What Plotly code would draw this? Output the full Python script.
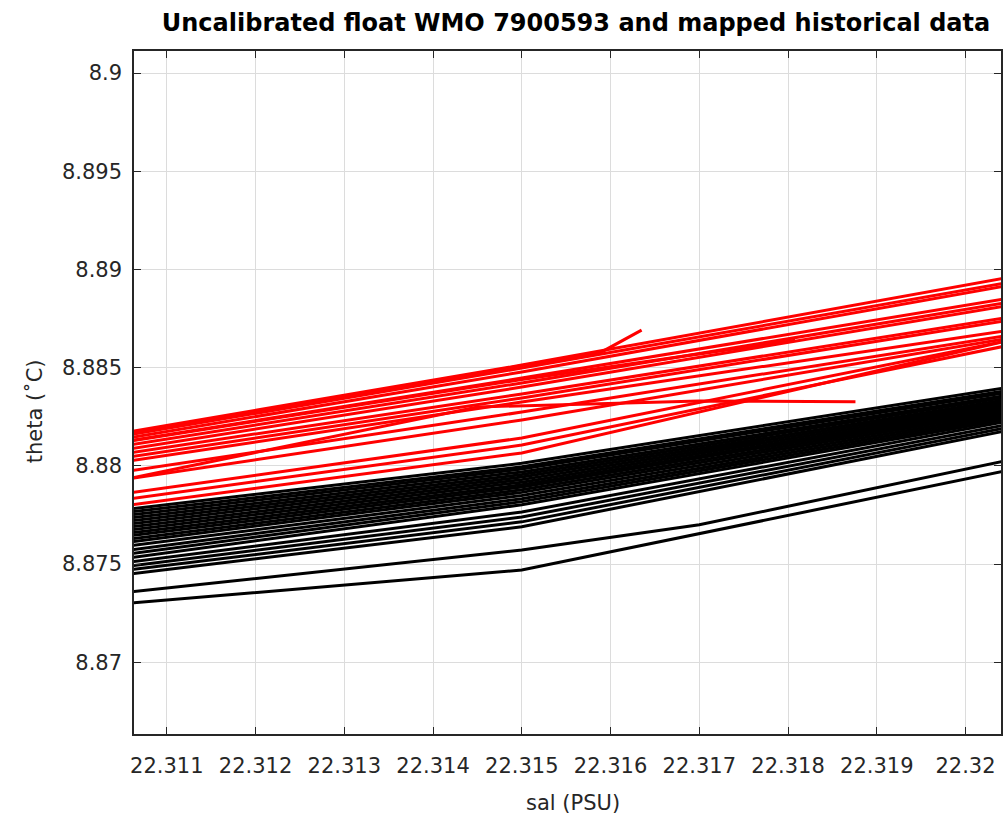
import plotly.graph_objects as go

# ---- data (sal, theta) ----
# Float (uncalibrated) profiles - red
red_sal = [
    [22.3105, 22.3150, 22.3205],
    [22.3105, 22.3150, 22.3205],
    [22.3105, 22.3150, 22.3205],
    [22.3105, 22.3150, 22.3205],
    [22.3105, 22.3150, 22.3205],
    [22.3105, 22.3150, 22.3205],
    [22.3105, 22.3150, 22.3205],
    [22.3105, 22.3150, 22.3205],
    [22.3105, 22.3150, 22.3205],
    [22.3105, 22.3150, 22.3205],
    [22.3105, 22.3150, 22.3205],
    [22.3105, 22.3150, 22.3205],
    [22.3105, 22.3150, 22.3205],
    [22.3105, 22.3150, 22.3205],
    [22.3105, 22.3150, 22.3159, 22.31635],
    [22.3105, 22.3145, 22.3170, 22.31876],
    [22.3105, 22.3150, 22.31808],
]
red_theta = [
    [8.88168, 8.88513, 8.88961],
    [8.88152, 8.88498, 8.88935],
    [8.88137, 8.88478, 8.88920],
    [8.88122, 8.88447, 8.88854],
    [8.88101, 8.88422, 8.88834],
    [8.88081, 8.88401, 8.88818],
    [8.88061, 8.88366, 8.88757],
    [8.88040, 8.88346, 8.88742],
    [8.88020, 8.88325, 8.88691],
    [8.87969, 8.88274, 8.88666],
    [8.87929, 8.88234, 8.88651],
    [8.87857, 8.88142, 8.88640],
    [8.87827, 8.88106, 8.88615],
    [8.87796, 8.88066, 8.88640],
    [8.88160, 8.88508, 8.88580, 8.88691],
    [8.87929, 8.88300, 8.88330, 8.88327],
    [8.88120, 8.88440, 8.88640],
]

# Mapped historical profiles - black
black_sal_left = 22.3105
black_sal_mid = 22.3150
black_sal_right = 22.3205
black_theta_left = [8.87776, 8.87761, 8.87745, 8.87730, 8.87715, 8.87700, 8.87684,
                    8.87669, 8.87654, 8.87639, 8.87623, 8.87608, 8.87588, 8.87567,
                    8.87547, 8.87527, 8.87506, 8.87486, 8.87466, 8.87445]
black_theta_mid = [8.88013, 8.87995, 8.87984, 8.87969, 8.87956, 8.87943, 8.87930,
                   8.87917, 8.87904, 8.87892, 8.87878, 8.87865, 8.87849, 8.87833,
                   8.87818, 8.87802, 8.87765, 8.87740, 8.87715, 8.87690]
black_theta_right = [8.88401, 8.88386, 8.88376, 8.88361, 8.88351, 8.88340, 8.88330,
                     8.88320, 8.88310, 8.88300, 8.88290, 8.88279, 8.88269, 8.88259,
                     8.88249, 8.88239, 8.88229, 8.88213, 8.88198, 8.88183]
black_extra_sal = [
    [22.3105, 22.3150, 22.3170, 22.3205],
    [22.3105, 22.3150, 22.3205],
]
black_extra_theta = [
    [8.87354, 8.87572, 8.87700, 8.88030],
    [8.87298, 8.87470, 8.87979],
]

x_ticks = [22.311, 22.312, 22.313, 22.314, 22.315, 22.316, 22.317, 22.318, 22.319, 22.32]
x_labels = ["22.311", "22.312", "22.313", "22.314", "22.315", "22.316", "22.317",
            "22.318", "22.319", "22.32"]
y_ticks = [8.87, 8.875, 8.88, 8.885, 8.89, 8.895, 8.9]
y_labels = ["8.87", "8.875", "8.88", "8.885", "8.89", "8.895", "8.9"]
x_range = [22.31063, 22.32040]
y_range = [8.86635, 8.90112]

fig = go.Figure()
LW = 3
for i in range(len(black_theta_left)):
    fig.add_trace(go.Scatter(
        x=[black_sal_left, black_sal_mid, black_sal_right],
        y=[black_theta_left[i], black_theta_mid[i], black_theta_right[i]],
        mode="lines", line=dict(color="black", width=LW), showlegend=False,
        hoverinfo="skip"))
for xs, ys in zip(black_extra_sal, black_extra_theta):
    fig.add_trace(go.Scatter(x=xs, y=ys, mode="lines",
                             line=dict(color="black", width=LW), showlegend=False,
                             hoverinfo="skip"))
for xs, ys in zip(red_sal, red_theta):
    fig.add_trace(go.Scatter(x=xs, y=ys, mode="lines",
                             line=dict(color="#ff0000", width=LW), showlegend=False,
                             hoverinfo="skip"))

FONT = "DejaVu Sans, Liberation Sans, Arial, sans-serif"
fig.update_layout(
    width=1007, height=821,
    margin=dict(l=134, r=4, t=51, b=87),
    paper_bgcolor="white", plot_bgcolor="white",
    font=dict(family=FONT, size=20, color="#262626"),
    title=dict(text="<b>Uncalibrated float WMO 7900593 and mapped historical data</b>",
               x=0.572, xanchor="center", y=0.973, yanchor="middle",
               font=dict(family=FONT, size=24, color="black")),
)
fig.update_xaxes(
    range=x_range, tickvals=x_ticks, ticktext=x_labels,
    showgrid=True, gridcolor="#dcdcdc", gridwidth=1,
    showline=True, linecolor="#262626", linewidth=1.5, mirror="ticks",
    ticks="inside", ticklen=7, tickcolor="#262626", tickwidth=1,
    zeroline=False, tickfont=dict(size=21), ticklabelstandoff=12,
)
fig.update_yaxes(
    range=y_range, tickvals=y_ticks, ticktext=y_labels,
    showgrid=True, gridcolor="#dcdcdc", gridwidth=1,
    showline=True, linecolor="#262626", linewidth=1.5, mirror="ticks",
    ticks="inside", ticklen=7, tickcolor="#262626", tickwidth=1,
    zeroline=False, tickfont=dict(size=21), ticklabelstandoff=6,
)
fig.add_annotation(text="sal (PSU)", xref="paper", yref="paper",
                   x=0.5058, y=-0.101, xanchor="center", yanchor="middle",
                   showarrow=False, font=dict(family=FONT, size=21, color="#262626"))
fig.add_annotation(text="theta (˚C)", xref="paper", yref="paper",
                   x=-0.1139, y=0.4729, xanchor="center", yanchor="middle",
                   textangle=-90, showarrow=False,
                   font=dict(family=FONT, size=21, color="#262626"))
fig.write_html("out.html", config={"displayModeBar": False},
               post_script="document.body.style.margin='0';")
